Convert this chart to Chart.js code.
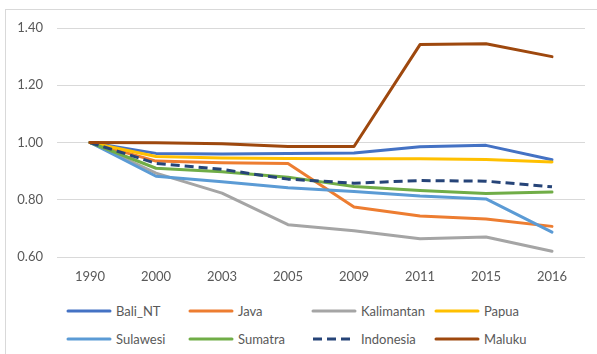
<!DOCTYPE html>
<html>
<head>
<meta charset="utf-8">
<script src="https://cdn.jsdelivr.net/npm/chart.js@4.4.1/dist/chart.umd.min.js"></script>
<style>
  body { margin: 0; background: #fff; }
  #wrap { position: relative; width: 597px; height: 354px; overflow: hidden; font-family: Lato, sans-serif; }
  #frame { position: absolute; left: 5px; top: 9px; width: 700px; height: 400px;
           border-left: 1px solid #d9d9d9; border-top: 1px solid #d9d9d9; }
  #chart { position: absolute; left: 0; top: 0; }
  .item { position: absolute; height: 16px; display: flex; align-items: center;
          font-size: 13px; color: #595959; white-space: nowrap; }
  .item svg { margin-right: 4px; }
</style>
</head>
<body>
<div id="wrap">
  <div id="frame"></div>
  <canvas id="chart" width="597" height="290"></canvas>
  <div id="legend"></div>
</div>
<script>
// data
const years = ['1990', '2000', '2003', '2005', '2009', '2011', '2015', '2016'];
const baliNT     = [1.00, 0.962, 0.960, 0.962, 0.963, 0.985, 0.990, 0.940];
const java       = [1.00, 0.935, 0.929, 0.927, 0.775, 0.743, 0.733, 0.707];
const kalimantan = [1.00, 0.893, 0.823, 0.713, 0.692, 0.664, 0.670, 0.620];
const papua      = [1.00, 0.951, 0.946, 0.944, 0.943, 0.943, 0.941, 0.932];
const sulawesi   = [1.00, 0.882, 0.863, 0.842, 0.829, 0.813, 0.803, 0.687];
const sumatra    = [1.00, 0.910, 0.898, 0.879, 0.846, 0.832, 0.822, 0.827];
const indonesia  = [1.00, 0.927, 0.906, 0.872, 0.858, 0.867, 0.865, 0.845];
const maluku     = [1.00, 0.999, 0.996, 0.986, 0.986, 1.342, 1.345, 1.300];

const names  = ['Bali_NT', 'Java', 'Kalimantan', 'Papua', 'Sulawesi', 'Sumatra', 'Indonesia', 'Maluku'];
const series = [baliNT, java, kalimantan, papua, sulawesi, sumatra, indonesia, maluku];
const colors = ['#4472c4', '#ed7d31', '#a5a5a5', '#ffc000', '#5b9bd5', '#70ad47', '#264478', '#9e480e'];

const datasets = names.map(function (n, i) {
    const dashed = n === 'Indonesia';
    return {
        label: n,
        data: series[i],
        borderColor: colors[i],
        backgroundColor: colors[i],
        borderWidth: 3,
        borderDash: dashed ? [9, 5] : [],
        borderCapStyle: dashed ? 'butt' : 'round',
        borderJoinStyle: 'round',
        pointRadius: 0,
        tension: 0,
        order: names.length - i
    };
});

const chart = new Chart(document.getElementById('chart'), {
    type: 'line',
    data: { labels: years, datasets: datasets },
    options: {
        responsive: false,
        animation: false,
        devicePixelRatio: 1,
        layout: { padding: { left: 0, top: 28, right: 12, bottom: 0 } },
        plugins: { legend: { display: false }, tooltip: { enabled: false } },
        scales: {
            x: {
                offset: true,
                grid: { display: false, drawTicks: false },
                border: { display: false },
                ticks: { color: '#595959', font: { family: 'Lato', size: 13 }, padding: 12, maxRotation: 0 },
                afterFit: function (s) { s.height = 33; }
            },
            y: {
                min: 0.6,
                max: 1.4,
                grid: { color: '#d9d9d9', lineWidth: 1, drawTicks: false },
                border: { display: false },
                ticks: {
                    stepSize: 0.2,
                    color: '#595959',
                    font: { family: 'Lato', size: 13 },
                    padding: 14,
                    callback: function (v) { return v.toFixed(2); }
                },
                afterFit: function (s) { s.width = 57; }
            }
        }
    }
});

// legend, 4 columns x 2 rows
const colX = [66, 188, 311, 434];
const rowY = [311, 339];
const legend = document.getElementById('legend');
names.forEach(function (n, i) {
    const el = document.createElement('div');
    el.className = 'item';
    el.style.left = colX[i % 4] + 'px';
    el.style.top = (rowY[Math.floor(i / 4)] - 8) + 'px';
    const dash = n === 'Indonesia' ? 'stroke-dasharray="9 5" stroke-linecap="butt"' : 'stroke-linecap="round"';
    el.innerHTML = '<svg width="46" height="6"><line x1="2" y1="3" x2="44" y2="3" stroke="' + colors[i] +
        '" stroke-width="3" ' + dash + '/></svg>' + n;
    legend.appendChild(el);
});
</script>
</body>
</html>
